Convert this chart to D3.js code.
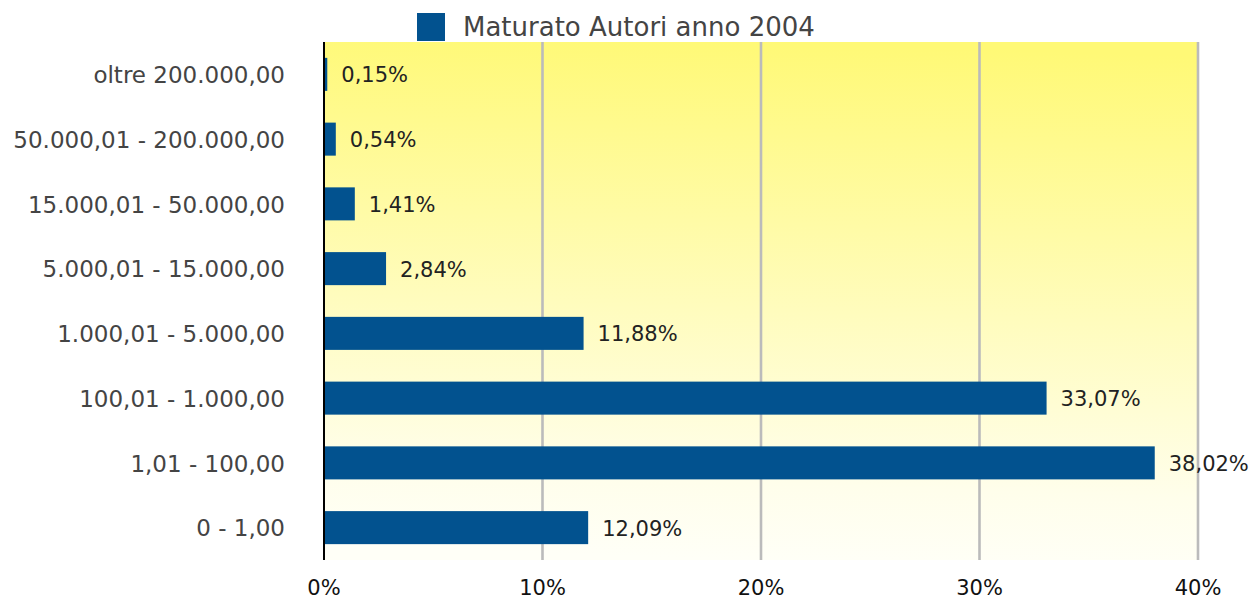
<!DOCTYPE html>
<html>
<head>
<meta charset="utf-8">
<script src="https://cdn.jsdelivr.net/npm/d3@7"></script>
<style>
  body { margin: 0; background: #fff; }
  svg text { font-family: "DejaVu Sans", Verdana, sans-serif; }
</style>
</head>
<body>
<svg id="chart" width="1252" height="600"></svg>
<script>
const categories = [
    "oltre 200.000,00",
    "50.000,01 - 200.000,00",
    "15.000,01 - 50.000,00",
    "5.000,01 - 15.000,00",
    "1.000,01 - 5.000,00",
    "100,01 - 1.000,00",
    "1,01 - 100,00",
    "0 - 1,00"
];
const values = [0.15, 0.54, 1.41, 2.84, 11.88, 33.07, 38.02, 12.09];
const valueLabels = ["0,15%", "0,54%", "1,41%", "2,84%", "11,88%", "33,07%", "38,02%", "12,09%"];
const xTicks = [0, 10, 20, 30, 40];
const seriesName = "Maturato Autori anno 2004";

const svg = d3.select("#chart");
const margin = { top: 42, right: 54, bottom: 40, left: 324 };
const width = 1252 - margin.left - margin.right;
const height = 600 - margin.top - margin.bottom;

const barColor = "#02528F";

// background gradient: yellow at the top fading to near white at the bottom
const defs = svg.append("defs");
const grad = defs.append("linearGradient")
    .attr("id", "bg")
    .attr("x1", 0.47).attr("y1", 1)
    .attr("x2", 0.53).attr("y2", 0);
grad.append("stop").attr("offset", "0%").attr("stop-color", "#FFFFF7");
grad.append("stop").attr("offset", "15%").attr("stop-color", "#FFFEEB");
grad.append("stop").attr("offset", "65%").attr("stop-color", "#FFFBA6");
grad.append("stop").attr("offset", "100%").attr("stop-color", "#FFF976");

const g = svg.append("g").attr("transform", `translate(${margin.left},${margin.top})`);

const x = d3.scaleLinear().domain([0, 40]).range([0, width]);
const y = d3.scaleBand().domain(categories).range([0, height]).paddingInner(0.49).paddingOuter(0.245);

g.append("rect")
    .attr("width", width + 1)
    .attr("height", height)
    .attr("fill", "url(#bg)");

// gridlines
g.selectAll(".grid")
    .data(xTicks.filter(d => d > 0))
    .join("line")
    .attr("x1", d => x(d)).attr("x2", d => x(d))
    .attr("y1", 0).attr("y2", height)
    .attr("stroke", "#BBBBBB")
    .attr("stroke-width", 2.6);

// bars
g.selectAll(".bar")
    .data(values)
    .join("rect")
    .attr("x", 0)
    .attr("y", (d, i) => y(categories[i]))
    .attr("width", d => x(d))
    .attr("height", y.bandwidth())
    .attr("fill", barColor);

// value labels
g.selectAll(".val")
    .data(values)
    .join("text")
    .attr("x", d => x(d) + 14)
    .attr("y", (d, i) => y(categories[i]) + y.bandwidth() / 2)
    .attr("dy", "0.38em")
    .attr("font-size", 21)
    .attr("fill", "#222")
    .text((d, i) => valueLabels[i]);

// zero axis line
g.append("line")
    .attr("x1", 0).attr("x2", 0)
    .attr("y1", 0).attr("y2", height)
    .attr("stroke", "#000")
    .attr("stroke-width", 2);

// category labels
g.selectAll(".cat")
    .data(categories)
    .join("text")
    .attr("x", -39)
    .attr("y", d => y(d) + y.bandwidth() / 2)
    .attr("dy", "0.38em")
    .attr("text-anchor", "end")
    .attr("font-size", 23)
    .attr("fill", "#444")
    .text(d => d);

// x tick labels
g.selectAll(".tick-label")
    .data(xTicks)
    .join("text")
    .attr("x", d => x(d))
    .attr("y", height + 35)
    .attr("text-anchor", "middle")
    .attr("font-size", 21)
    .attr("fill", "#111")
    .text(d => d + "%");

// legend
const legend = svg.append("g").attr("transform", "translate(417,13)");
legend.append("rect")
    .attr("width", 28).attr("height", 28)
    .attr("fill", barColor);
legend.append("text")
    .attr("x", 46)
    .attr("y", 23)
    .attr("font-size", 26)
    .attr("fill", "#444")
    .text(seriesName);
</script>
</body>
</html>
